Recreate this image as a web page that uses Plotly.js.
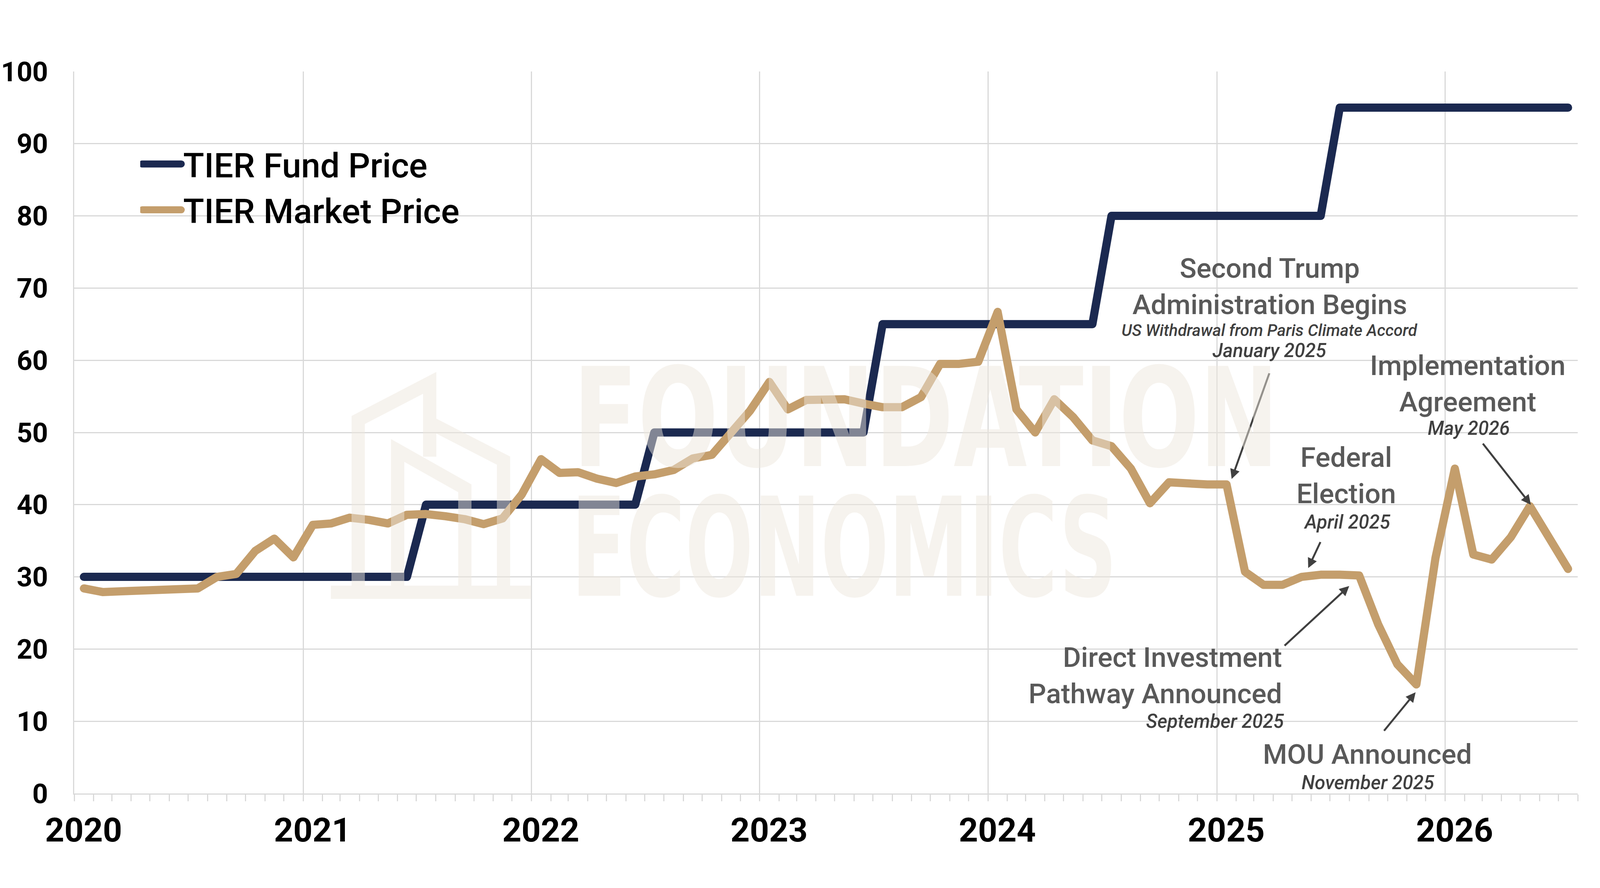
<!DOCTYPE html>
<html>
<head>
<meta charset="utf-8">
<script src="https://cdn.plot.ly/plotly-3.0.1.min.js"></script>
<style>
  html, body { margin: 0; padding: 0; background: #fff; }
  #plotZone { width: 4125px; height: 2273px; }
  .scatterlayer .js-line { stroke-linejoin: round; stroke-linecap: round; }
  .legend .legendlines path { stroke-width: 18px !important; stroke-linecap: round; }
</style>
</head>
<body>
<div id="plotZone"></div>
<script>
// monthly values, Jan 2020 .. Jul 2026
var fundPrice = [
    30,30,30,30,30,30,30,30,30,30,30,30, 30,30,30,30,30,30,
    40,40,40,40,40,40, 40,40,40,40,40,40,
    50,50,50,50,50,50, 50,50,50,50,50,50,
    65,65,65,65,65,65, 65,65,65,65,65,65,
    80,80,80,80,80,80, 80,80,80,80,80,80,
    95,95,95,95,95,95, 95,95,95,95,95,95, 95
];
var marketPrice = [
    28.4,27.9,28.0,28.1,28.1,28.3,28.4,30.0,30.4,33.6,35.3,32.7,
    37.2,37.4,38.2,37.9,37.4,38.6,38.7,38.4,38.0,37.3,38.1,41.4,
    46.3,44.4,44.5,43.6,43.0,43.9,44.2,44.8,46.4,46.9,50.0,53.0,
    57.0,53.2,54.5,54.5,54.6,54.0,53.5,53.5,54.9,59.5,59.5,59.8,
    66.7,53.2,50.0,54.6,52.1,48.9,48.1,45.0,40.2,43.1,42.9,42.8,
    42.8,30.7,28.9,28.9,30.0,30.3,30.3,30.2,23.4,17.9,15.1,32.6,
    45.0,33.1,32.4,35.5,39.8,35.5,31.1
];
var seriesNames = ["TIER Fund Price", "TIER Market Price"];
var seriesColors = ["#1b2950", "#c49e6c"];
var yTicks = [0,10,20,30,40,50,60,70,80,90,100];

var months = [];
for (let i = 0; i < marketPrice.length; i++) {
    var d = new Date(Date.UTC(2020, i, 1));
    months.push(d.toISOString().slice(0, 10));
}

// plot area in page pixels, used to place the text overlays
var L = 190, R = 4039, T = 183, B = 2031;
function px(X){ return (X - L) / (R - L); }
function py(Y){ return (B - Y) / (B - T); }

var FONT = 'Roboto, "Open Sans", sans-serif';
var GRID = '#d9d9d9';
var MARK = 'rgba(236,230,220,0.49)';

var traceFund = {
    x: months, y: fundPrice, type: 'scatter', mode: 'lines',
    xperiod: 'M1', xperiodalignment: 'middle',
    name: seriesNames[0], line: {color: seriesColors[0], width: 21}
};
var traceMarket = {
    x: months, y: marketPrice, type: 'scatter', mode: 'lines',
    xperiod: 'M1', xperiodalignment: 'middle',
    name: seriesNames[1], line: {color: seriesColors[1], width: 21}
};

// event labels, one line each: [text, centreX, centreY, size, italic, anchor]
var labels = [
    ["Second Trump", 3250, 686, 71, false, 'center'],
    ["Administration Begins", 3250, 779, 71, false, 'center'],
    ["US Withdrawal from Paris Climate Accord", 3250, 846, 42, true, 'center'],
    ["January 2025", 3250, 897, 49, true, 'center'],
    ["Implementation", 3757, 935, 71, false, 'center'],
    ["Agreement", 3757, 1028, 71, false, 'center'],
    ["May 2026", 3760, 1096, 49, true, 'center'],
    ["Federal", 3446, 1170, 71, false, 'center'],
    ["Election", 3446, 1263, 71, false, 'center'],
    ["April 2025", 3448, 1336, 49, true, 'center'],
    ["Direct Investment", 3284, 1682, 71, false, 'right'],
    ["Pathway Announced", 3284, 1775, 71, false, 'right'],
    ["September 2025", 3290, 1846, 49, true, 'right'],
    ["MOU Announced", 3500, 1930, 71, false, 'center'],
    ["November 2025", 3502, 2003, 49, true, 'center']
];
// arrows: [tipX, tipY, tailX, tailY]
var arrows = [
    [3153, 1226, 3250, 954],
    [3349, 1454, 3381, 1386],
    [3919, 1292, 3795, 1134],
    [3454, 1500, 3287, 1654],
    [3624, 1772, 3542, 1872]
];

var annotations = [];
arrows.forEach(function(a){
    annotations.push({
        xref: 'paper', yref: 'paper', x: px(a[0]), y: py(a[1]),
        ax: a[2] - a[0], ay: a[3] - a[1], text: '', font: {size: 1},
        showarrow: true, arrowhead: 2, arrowsize: 1, arrowwidth: 5,
        arrowcolor: '#404040', standoff: 0, startstandoff: 0
    });
});
labels.forEach(function(l){
    annotations.push({
        xref: 'paper', yref: 'paper', x: px(l[1]), y: py(l[2]),
        xanchor: l[5], yanchor: 'middle', align: l[5], showarrow: false,
        text: l[0],
        font: {family: FONT, size: l[3], color: l[4] ? '#404040' : '#595959',
               style: l[4] ? 'italic' : 'normal', weight: 500}
    });
});

// watermark words: [text, centreX, capCentreY, width]
var watermark = [
    ["FOUNDATION", 2370, 1071, 1807],
    ["ECONOMICS", 2161, 1403, 1397]
];
watermark.forEach(function(w){
    annotations.push({
        xref: 'paper', yref: 'paper', x: px(w[1]), y: py(w[2]),
        xanchor: 'center', yanchor: 'middle', showarrow: false, text: w[0],
        font: {family: '"Liberation Sans Narrow", "DejaVu Sans Condensed", sans-serif',
               size: 352, color: MARK, weight: 700}
    });
});

// house logo outline, page pixels
var logo = [
    [[847,1516],[1360,1516]],
    [[917,1512],[917,1075],[1100,980],[1100,1169]],
    [[1100,1082],[1289,1179],[1289,1512]],
    [[1018,1512],[1018,1153],[1190,1250],[1190,1512]]
];
var logoPath = logo.map(function(seg){
    return seg.map(function(p, k){
        return (k ? 'L' : 'M') + px(p[0]).toFixed(5) + ',' + py(p[1]).toFixed(5);
    }).join(' ');
}).join(' ');

var layout = {
    width: 4125, height: 2273,
    margin: {l: L, r: 4125 - R, t: T, b: 2273 - B, pad: 0},
    paper_bgcolor: '#fff', plot_bgcolor: '#fff',
    font: {family: FONT, color: '#000'},
    showlegend: true,
    legend: {
        x: px(359), y: py(356), xanchor: 'left', yanchor: 'top',
        bgcolor: 'rgba(0,0,0,0)', itemwidth: 100, tracegroupgap: 0,
        font: {family: FONT, size: 88, color: '#000', weight: 500}
    },
    xaxis: {
        type: 'date', range: ['2020-01-01', '2026-08-01'],
        tick0: '2020-01-01', dtick: 'M12', tickformat: '%Y',
        showgrid: true, gridcolor: GRID, gridwidth: 3,
        showline: true, linecolor: GRID, linewidth: 3,
        ticks: 'outside', ticklen: 17, tickwidth: 3, tickcolor: GRID,
        minor: {dtick: 'M1', ticks: 'outside', ticklen: 17, tickwidth: 3,
                tickcolor: GRID, showgrid: false},
        ticklabelshift: 24, ticklabelstandoff: 0,
        tickfont: {family: FONT, size: 86, color: '#000', weight: 700},
        zeroline: false, fixedrange: true
    },
    yaxis: {
        range: [0, 100], tickvals: yTicks,
        showgrid: true, gridcolor: GRID, gridwidth: 3,
        showline: true, linecolor: GRID, linewidth: 3,
        ticks: '', ticklabelstandoff: 50,
        tickfont: {family: FONT, size: 70, color: '#000', weight: 700},
        zeroline: false, fixedrange: true
    },
    shapes: [{
        type: 'path', xref: 'paper', yref: 'paper', layer: 'above',
        path: logoPath, line: {color: MARK, width: 34}
    }],
    annotations: annotations
};

var gd = document.getElementById('plotZone');
Plotly.newPlot(gd, [traceFund, traceMarket], layout, {displayModeBar: false, staticPlot: true});

// squeeze the watermark words to their measured widths
function fitWatermark(){
    var nodes = gd.querySelectorAll('.annotation-text');
    nodes.forEach(function(t){
        watermark.forEach(function(w){
            if (t.textContent === w[0]) {
                t.setAttribute('textLength', w[3]);
                t.setAttribute('lengthAdjust', 'spacingAndGlyphs');
            }
        });
    });
}
fitWatermark();
gd.on('plotly_afterplot', fitWatermark);
</script>
</body>
</html>
